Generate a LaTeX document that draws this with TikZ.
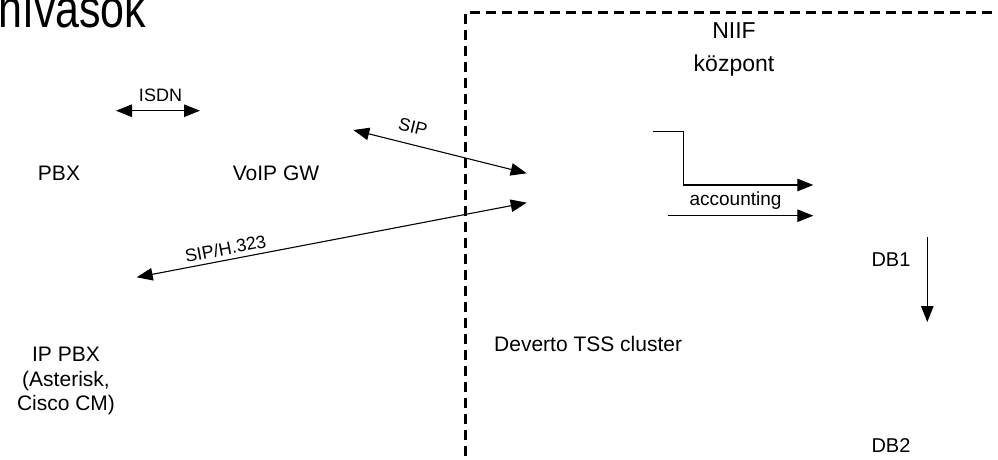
\documentclass[tikz,border=0pt]{standalone}
\usepackage{fontspec}
\setmainfont{Liberation Sans}
\usetikzlibrary{arrows.meta}
\tikzset{
  lbl/.style={inner sep=0pt, anchor=base, font=\fontsize{21}{24}\selectfont},
  small/.style={inner sep=0pt, anchor=base, font=\fontsize{18}{21}\selectfont},
  conn/.style={line width=1.1pt, -{Triangle[length=16pt,width=12.5pt]}},
  biconn/.style={line width=1.1pt, {Triangle[length=16pt,width=12.5pt]}-{Triangle[length=16pt,width=12.5pt]}},
  zone/.style={line width=3.2pt, dash pattern=on 10pt off 6pt}
}
\begin{document}
\begin{tikzpicture}[x=1pt,y=-1pt]
\useasboundingbox (0,0) rectangle (998,459);
\clip (0,0) rectangle (998,459);
% title (cut off at the top)
\node[anchor=base west, inner sep=0pt, font=\fontsize{43}{50}\selectfont, yscale=1.25] (title) at (-2,27) {hívások};
% NIIF zone
\draw[zone] (465.5,1000) -- (465.5,12.5) -- (1100,12.5);
\node[inner sep=0pt, anchor=base, font=\fontsize{23}{32}\selectfont] (niif) at (734,38) {NIIF};
\node[inner sep=0pt, anchor=base, font=\fontsize{23}{32}\selectfont] (kozpont) at (734,71) {központ};
% labels
\node[lbl] (pbx) at (59,180) {PBX};
\node[lbl] (voip) at (276,180) {VoIP GW};
\node[lbl, anchor=base west] (tss) at (494,351.5) {Deverto TSS cluster};
\node[lbl] (ippbx1) at (66,361.5) {IP PBX};
\node[lbl] (ippbx2) at (66,386) {(Asterisk,};
\node[lbl] (ippbx3) at (66,410) {Cisco CM)};
\node[lbl, font=\fontsize{20}{24}\selectfont] (db1) at (891,266) {DB1};
\node[lbl, font=\fontsize{20}{24}\selectfont] (db2) at (891,452) {DB2};
% connector end points
\coordinate (isdnL) at (116,110.7);
\coordinate (isdnR) at (200,110.7);
\coordinate (sipL) at (353.3,130);
\coordinate (sipR) at (526.7,173.3);
\coordinate (hL) at (136.7,277.3);
\coordinate (hR) at (526.7,202.7);
\coordinate (acc1S) at (653,131.7);
\coordinate (acc1E) at (813.3,185);
\coordinate (acc2S) at (668.3,215.7);
\coordinate (acc2E) at (813.3,215.7);
\coordinate (dbS) at (927.3,237);
\coordinate (dbE) at (927.3,322);
% connectors
\draw[biconn] (isdnL) -- (isdnR);
\node[small] (isdn) at (160.5,101) {ISDN};
\draw[biconn] (sipL) -- (sipR);
\node[small, anchor=center, rotate=-14] (sip) at (413,127) {SIP};
\draw[biconn] (hL) -- (hR);
\node[small, anchor=center, rotate=10.8] (h323) at (225.5,248.5) {SIP/H.323};
\draw[conn] (acc1S) -- (683.3,131.7) |- (acc1E);
\draw[conn] (acc2S) -- (acc2E);
\node[small, font=\fontsize{19}{22}\selectfont] (acc) at (735.5,205.5) {accounting};
\draw[conn] (dbS) -- (dbE);
\end{tikzpicture}
\end{document}
